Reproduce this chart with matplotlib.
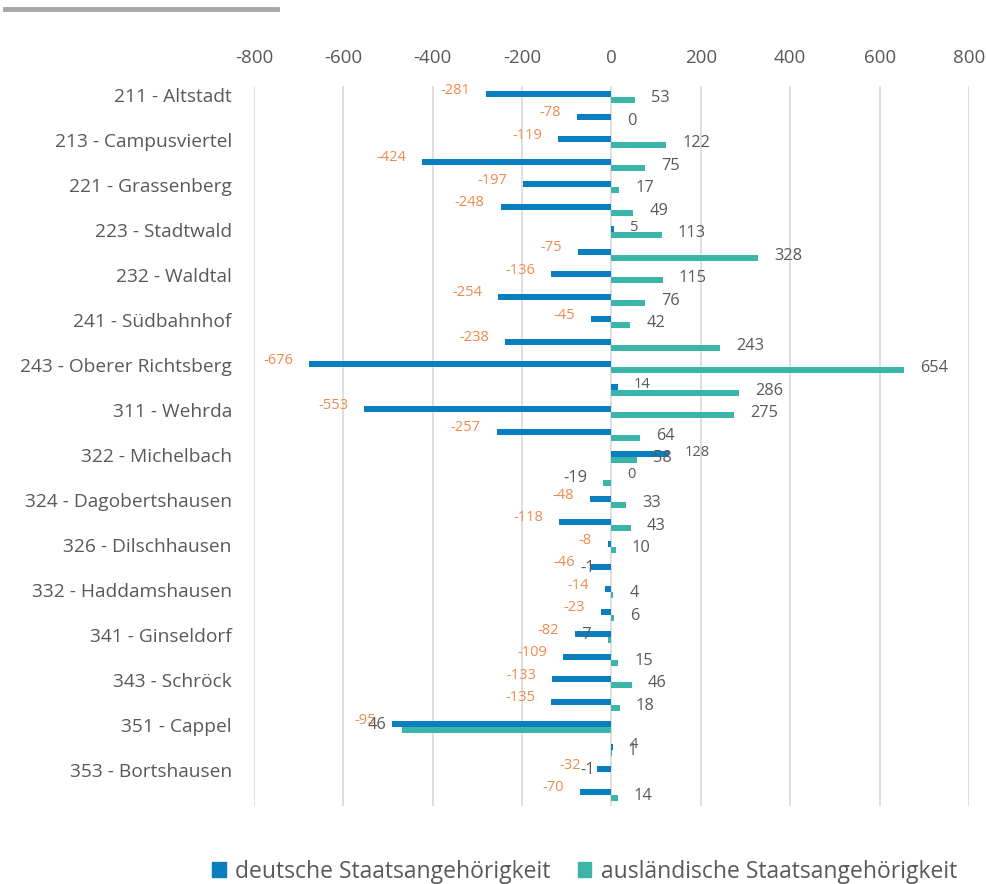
import matplotlib.pyplot as plt
from matplotlib.lines import Line2D
from matplotlib.patches import Patch

plt.rcParams['font.family'] = ['Open Sans', 'DejaVu Sans']

# every second district is labelled on the axis, the others stay blank
districts = [
    "211 - Altstadt", "", "213 - Campusviertel", "", "221 - Grassenberg", "",
    "223 - Stadtwald", "", "232 - Waldtal", "", "241 - Südbahnhof", "",
    "243 - Oberer Richtsberg", "", "311 - Wehrda", "", "322 - Michelbach", "",
    "324 - Dagobertshausen", "", "326 - Dilschhausen", "", "332 - Haddamshausen", "",
    "341 - Ginseldorf", "", "343 - Schröck", "", "351 - Cappel", "",
    "353 - Bortshausen", "",
]
deutsch = [-281, -78, -119, -424, -197, -248, 5, -75, -136, -254, -45, -238,
           -676, 14, -553, -257, 128, 0, -48, -118, -8, -46, -14, -23,
           -82, -109, -133, -135, -492, 4, -32, -70]
auslaendisch = [53, 0, 122, 75, 17, 49, 113, 328, 115, 76, 42, 243,
                654, 286, 275, 64, 58, -19, 33, 43, 10, -1, 4, 6,
                -7, 15, 46, 18, -468, 1, -1, 14]
# the Cappel row shows labels that differ from its bars
deutsch_text = [str(v) for v in deutsch]
auslaendisch_text = [str(v) for v in auslaendisch]
deutsch_text[28] = "-95"
auslaendisch_text[28] = "46"

xticks = [-800, -600, -400, -200, 0, 200, 400, 600, 800]

BLUE = "#0A7FC0"
TEAL = "#3BB5A9"
ORANGE = "#F08A4B"
GREY = "#595959"

fig = plt.figure(figsize=(9.87, 8.84), dpi=100)
ax = fig.add_axes([254 / 987, 1 - 806 / 884, 715 / 987, 720 / 884])

n = len(districts)
ys = list(range(n))
h = 0.27
ax.barh([y - h / 2 for y in ys], deutsch, height=h, color=BLUE)
ax.barh([y + h / 2 for y in ys], auslaendisch, height=h, color=TEAL)

for y, v, t in zip(ys, deutsch, deutsch_text):
    if v < 0:
        ax.annotate(t, (v, y - h / 2), xytext=(-11.5, 3), textcoords="offset points",
                    ha="right", va="center", fontsize=10.5, color=ORANGE)
    else:
        ax.annotate(t, (v, y - h / 2), xytext=(11.5, 1.5), textcoords="offset points",
                    ha="left", va="center", fontsize=10.5, color=GREY)

for y, v, t in zip(ys, auslaendisch, auslaendisch_text):
    if v < 0:
        ax.annotate(t, (v, y + h / 2), xytext=(-11.5, 3.5), textcoords="offset points",
                    ha="right", va="center", fontsize=11.8, color=GREY)
    else:
        ax.annotate(t, (v, y + h / 2), xytext=(11.5, 1.5), textcoords="offset points",
                    ha="left", va="center", fontsize=11.8, color=GREY)

ax.set_xlim(-800, 800)
ax.set_ylim(n - 0.5, -0.5)
ax.set_xticks(xticks)
ax.set_xticklabels([str(t) for t in xticks])
ax.set_yticks([y - 0.08 for y in ys])
ax.set_yticklabels(districts)
ax.xaxis.tick_top()
ax.tick_params(axis="x", length=0, pad=14, labelsize=13.5, labelcolor=GREY)
ax.tick_params(axis="y", length=0, pad=16, labelsize=13.8, labelcolor=GREY)
ax.grid(axis="x", color="#D9D9D9", linewidth=1.2)
ax.set_axisbelow(True)
for s in ax.spines.values():
    s.set_visible(False)

handles = [Patch(color=BLUE, label="deutsche Staatsangehörigkeit"),
           Patch(color=TEAL, label="ausländische Staatsangehörigkeit")]
fig.legend(handles=handles, loc="center", bbox_to_anchor=(0.592, 0.014), ncol=2,
           frameon=False, fontsize=16.5, handlelength=0.6, handleheight=0.6,
           handletextpad=0.4, columnspacing=1.2, labelcolor=GREY)

fig.add_artist(Line2D([5 / 987, 277 / 987], [1 - 9 / 884] * 2, lw=3.5, color="#A6A6A6"))

fig.savefig("out.png", dpi=100)
